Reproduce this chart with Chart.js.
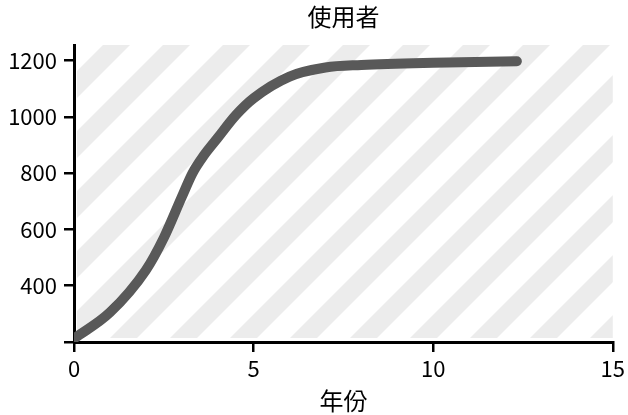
<!DOCTYPE html>
<html>
<head>
<meta charset="utf-8">
<script src="https://cdn.jsdelivr.net/npm/chart.js@4.4.0/dist/chart.umd.min.js"></script>
<style>
html,body{margin:0;padding:0;background:#fff;}
#wrap{width:628px;height:415px;}
</style>
</head>
<body>
<div id="wrap"><canvas id="c" width="628" height="415"></canvas></div>
<script>
const chartTitle = '使用者';
const xAxisTitle = '年份';
const years = [0, 1, 2, 2.5, 3, 3.3, 3.6, 4, 4.5, 5, 6, 7, 8, 10, 12.33];
const users = [212, 305, 455, 570, 715, 800, 860, 925, 1005, 1066, 1143, 1175, 1184, 1192, 1197];
const xTicks = [0, 5, 10, 15];
const yTicks = [200, 400, 600, 800, 1000, 1200];

const FONT = "'Noto Sans CJK JP', 'Noto Sans', sans-serif";
const TICKFONT = "'Noto Sans CJK JP', sans-serif";

const hatchPlugin = {
  id: 'hatch',
  beforeDatasetsDraw(chart) {
    const a = chart.chartArea;
    const ctx = chart.ctx;
    ctx.save();
    ctx.beginPath();
    ctx.rect(a.left + 3, a.top, a.right - a.left - 3, a.bottom - a.top - 4);
    ctx.clip();
    ctx.fillStyle = '#ececec';
    const h = a.bottom - a.top;
    const period = 60, band = 27;
    for (let x0 = a.left - 31 - period * 2; x0 < a.right + h + period; x0 += period) {
      ctx.beginPath();
      ctx.moveTo(x0, a.top);
      ctx.lineTo(x0 + band, a.top);
      ctx.lineTo(x0 + band - h, a.bottom);
      ctx.lineTo(x0 - h, a.bottom);
      ctx.closePath();
      ctx.fill();
    }
    ctx.restore();
  }
};

const titlePlugin = {
  id: 'ctitle',
  afterDraw(chart) {
    const a = chart.chartArea;
    const ctx = chart.ctx;
    ctx.save();
    ctx.fillStyle = '#000';
    ctx.font = "24px " + FONT;
    ctx.textAlign = 'center';
    ctx.textBaseline = 'middle';
    ctx.fillText(chartTitle, (a.left + a.right) / 2, 17);
    ctx.restore();
  }
};

new Chart(document.getElementById('c'), {
  type: 'line',
  data: {
    datasets: [{
      data: years.map((x, i) => ({x: x, y: users[i]})),
      borderColor: '#595959',
      borderWidth: 10,
      borderCapStyle: 'round',
      borderJoinStyle: 'round',
      pointRadius: 0,
      fill: false,
      cubicInterpolationMode: 'monotone'
    }]
  },
  options: {
    responsive: false,
    animation: false,
    layout: {padding: {left: 0, right: 14, top: 45, bottom: 0}},
    plugins: {legend: {display: false}, tooltip: {enabled: false}, title: {display: false}},
    scales: {
      x: {
        type: 'linear',
        min: 0, max: 15,
        afterBuildTicks(s) { s.ticks = xTicks.map(v => ({value: v})); },
        afterFit(s) { s.height = 73; },
        grid: {drawOnChartArea: false, drawTicks: true, tickLength: 10, color: '#000', lineWidth: 2.5},
        border: {display: true, color: '#000', width: 3},
        ticks: {color: '#000', font: {family: TICKFONT, size: 22}, padding: 3, maxRotation: 0},
        title: {display: true, text: xAxisTitle, color: '#000', font: {family: FONT, size: 24}, padding: {top: -4, bottom: 0}}
      },
      y: {
        type: 'linear',
        min: 200, max: 1255,
        afterBuildTicks(s) { s.ticks = yTicks.map(v => ({value: v})); },
        afterFit(s) { s.width = 74; },
        grid: {drawOnChartArea: false, drawTicks: true, tickLength: 10, color: '#000', lineWidth: 2.5},
        border: {display: true, color: '#000', width: 3},
        ticks: {color: '#000', font: {family: TICKFONT, size: 22}, padding: 7,
          callback: v => v === 200 ? '' : String(v)}
      }
    }
  },
  plugins: [hatchPlugin, titlePlugin]
});
</script>
</body>
</html>
